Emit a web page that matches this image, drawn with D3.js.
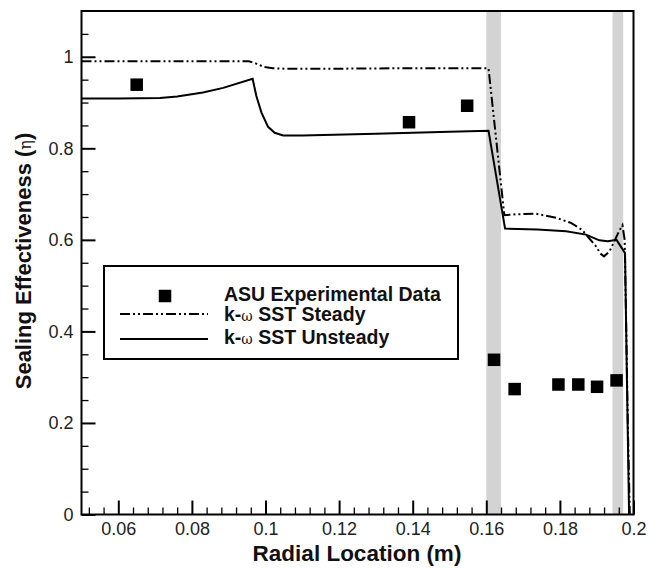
<!DOCTYPE html>
<html>
<head>
<meta charset="utf-8">
<script src="https://cdn.jsdelivr.net/npm/d3@7"></script>
<style>
  html, body { margin: 0; padding: 0; background: #fff; }
  svg { display: block; }
  text { font-family: Arial, "Liberation Sans", Helvetica, sans-serif; }
</style>
</head>
<body>
<svg id="chart" width="656" height="568"></svg>
<script>
// ---- data ----
const expX = [0.065, 0.139, 0.1548, 0.1621, 0.1677, 0.1796, 0.185, 0.1901, 0.1954];
const expY = [0.939, 0.857, 0.893, 0.338, 0.274, 0.284, 0.284, 0.279, 0.293];

const steadyX = [0.05, 0.06, 0.07, 0.08, 0.09, 0.0955, 0.0975, 0.0995, 0.102, 0.105, 0.12, 0.14, 0.1606,
  0.1649, 0.168, 0.1735, 0.179, 0.183, 0.186, 0.188, 0.1898, 0.191, 0.192, 0.1935, 0.1948, 0.196, 0.1970,
  0.1976, 0.198, 0.1985, 0.199];
const steadyY = [0.990, 0.990, 0.990, 0.990, 0.990, 0.990, 0.985, 0.978, 0.975, 0.974, 0.974, 0.975, 0.975,
  0.654, 0.656, 0.657, 0.648, 0.637, 0.622, 0.603, 0.586, 0.570, 0.564, 0.575, 0.597, 0.618, 0.632,
  0.600, 0.420, 0.180, 0.0];

const unsteadyX = [0.05, 0.06, 0.0713, 0.076, 0.083, 0.0885, 0.0965, 0.0975, 0.0989, 0.1007, 0.1025, 0.1048,
  0.11, 0.13, 0.15, 0.1606, 0.1651, 0.1739, 0.1817, 0.1871, 0.1907, 0.193, 0.1954, 0.1977, 0.1982, 0.1988];
const unsteadyY = [0.909, 0.909, 0.910, 0.913, 0.922, 0.932, 0.952, 0.915, 0.878, 0.847, 0.834, 0.828,
  0.828, 0.832, 0.836, 0.8385, 0.6246, 0.6225, 0.619, 0.6115, 0.599, 0.597, 0.600, 0.571, 0.300, 0.0];

const bandStart = [0.160, 0.1943];
const bandEnd   = [0.164, 0.1972];

const xMajorTicks = [0.06, 0.08, 0.1, 0.12, 0.14, 0.16, 0.18, 0.2];
const yMajorTicks = [0, 0.2, 0.4, 0.6, 0.8, 1];
const xDomain = [0.05, 0.2];
const yDomain = [0, 1.1];

const legendLabels = ["ASU Experimental Data", "k-\u03c9 SST Steady", "k-\u03c9 SST Unsteady"];
const xTitle = "Radial Location (m)";
const yTitle = "Sealing Effectiveness (";

// ---- layout ----
const svg = d3.select("#chart");
const L = 81.5, R = 633.5, T = 11, B = 514.5;
const x = d3.scaleLinear().domain(xDomain).range([L, R]);
const y = d3.scaleLinear().domain(yDomain).range([B, T]);

// minor ticks
const xMinor = d3.range(0, 38).map(i => +(0.052 + i * 0.004).toFixed(4)).filter(v => v < 0.2 && xMajorTicks.every(m => Math.abs(m - v) > 1e-6));
const yMinor = d3.range(0, 22).map(i => +(i * 0.05).toFixed(3)).filter(v => v <= 1.05 && yMajorTicks.every(m => Math.abs(m - v) > 1e-6));

// bands
svg.append("g").selectAll("rect").data(bandStart).join("rect")
  .attr("x", (d, i) => x(d)).attr("width", (d, i) => x(bandEnd[i]) - x(d))
  .attr("y", T).attr("height", B - T)
  .attr("fill", "#d3d3d3");

// lines
const lineGen = d3.line().x(d => x(d[0])).y(d => y(d[1]));
svg.append("path").datum(steadyX.map((v, i) => [v, steadyY[i]]))
  .attr("d", lineGen).attr("fill", "none").attr("stroke", "#000")
  .attr("stroke-width", 2).attr("stroke-dasharray", "10,3,2,3,2,3");
svg.append("path").datum(unsteadyX.map((v, i) => [v, unsteadyY[i]]))
  .attr("d", lineGen).attr("fill", "none").attr("stroke", "#000")
  .attr("stroke-width", 2);

// experimental squares
const sq = 12.5;
svg.append("g").selectAll("rect").data(expX).join("rect")
  .attr("x", (d) => x(d) - sq / 2).attr("y", (d, i) => y(expY[i]) - sq / 2)
  .attr("width", sq).attr("height", sq).attr("fill", "#000");

// axes
const tickFont = 18;
const gx = svg.append("g").attr("transform", `translate(0,${B})`)
  .call(d3.axisBottom(x).tickValues(xMajorTicks).tickSize(-14).tickPadding(8).tickFormat(d => String(+d.toFixed(2))));
const gxm = svg.append("g").attr("transform", `translate(0,${B})`)
  .call(d3.axisBottom(x).tickValues(xMinor).tickSize(-7).tickFormat(""));
const gy = svg.append("g").attr("transform", `translate(${L},0)`)
  .call(d3.axisLeft(y).tickValues(yMajorTicks).tickSize(-14).tickPadding(8).tickFormat(d => String(+d.toFixed(2))));
const gym = svg.append("g").attr("transform", `translate(${L},0)`)
  .call(d3.axisLeft(y).tickValues(yMinor).tickSize(-7).tickFormat(""));
[gx, gy].forEach(g => {
  g.selectAll(".tick line").attr("stroke", "#000").attr("stroke-width", 2);
  g.selectAll(".tick text").attr("font-size", tickFont).attr("fill", "#222").attr("font-family", "Arial, 'Liberation Sans', sans-serif");
  g.select(".domain").remove();
});
[gxm, gym].forEach(g => {
  g.selectAll(".tick line").attr("stroke", "#000").attr("stroke-width", 1.3);
  g.select(".domain").remove();
});

// frame
svg.append("rect").attr("x", L).attr("y", T).attr("width", R - L).attr("height", B - T)
  .attr("fill", "none").attr("stroke", "#000").attr("stroke-width", 2);

// axis titles
svg.append("text").attr("x", 357).attr("y", 561).attr("text-anchor", "middle")
  .attr("font-size", 22.5).attr("font-weight", "bold").attr("fill", "#111").text(xTitle);
const yt = svg.append("text").attr("transform", "translate(31,261) rotate(-90)").attr("text-anchor", "middle")
  .attr("font-size", 22).attr("font-weight", "bold").attr("fill", "#111");
yt.append("tspan").text(yTitle);
yt.append("tspan").attr("font-weight", "normal").attr("font-size", 16).attr("font-family", "'DejaVu Serif', serif").text("\u03b7");
yt.append("tspan").text(")");

// legend
const lg = svg.append("g");
lg.append("rect").attr("x", 104).attr("y", 266).attr("width", 354).attr("height", 93)
  .attr("fill", "#fff").attr("stroke", "#000").attr("stroke-width", 2);
const rowsY = [296, 314, 339];
const textY = [301, 321, 344];
lg.append("rect").attr("x", 165 - sq / 2).attr("y", rowsY[0] - sq / 2).attr("width", sq).attr("height", sq).attr("fill", "#000");
lg.append("line").attr("x1", 120).attr("x2", 208).attr("y1", rowsY[1]).attr("y2", rowsY[1])
  .attr("stroke", "#000").attr("stroke-width", 2).attr("stroke-dasharray", "10,3,2,3,2,3");
lg.append("line").attr("x1", 120).attr("x2", 208).attr("y1", rowsY[2]).attr("y2", rowsY[2])
  .attr("stroke", "#000").attr("stroke-width", 2);
legendLabels.forEach((lab, i) => {
  const t = lg.append("text").attr("x", 224).attr("y", textY[i]).attr("font-size", 19.5).attr("font-weight", "bold").attr("fill", "#111");
  if (lab.includes("\u03c9")) {
    const parts = lab.split("\u03c9");
    t.append("tspan").text(parts[0]);
    t.append("tspan").attr("font-weight", "normal").attr("font-size", 14).attr("font-family", "'DejaVu Serif', serif").text("\u03c9");
    t.append("tspan").text(parts[1]);
  } else {
    t.text(lab);
  }
});
</script>
</body>
</html>
